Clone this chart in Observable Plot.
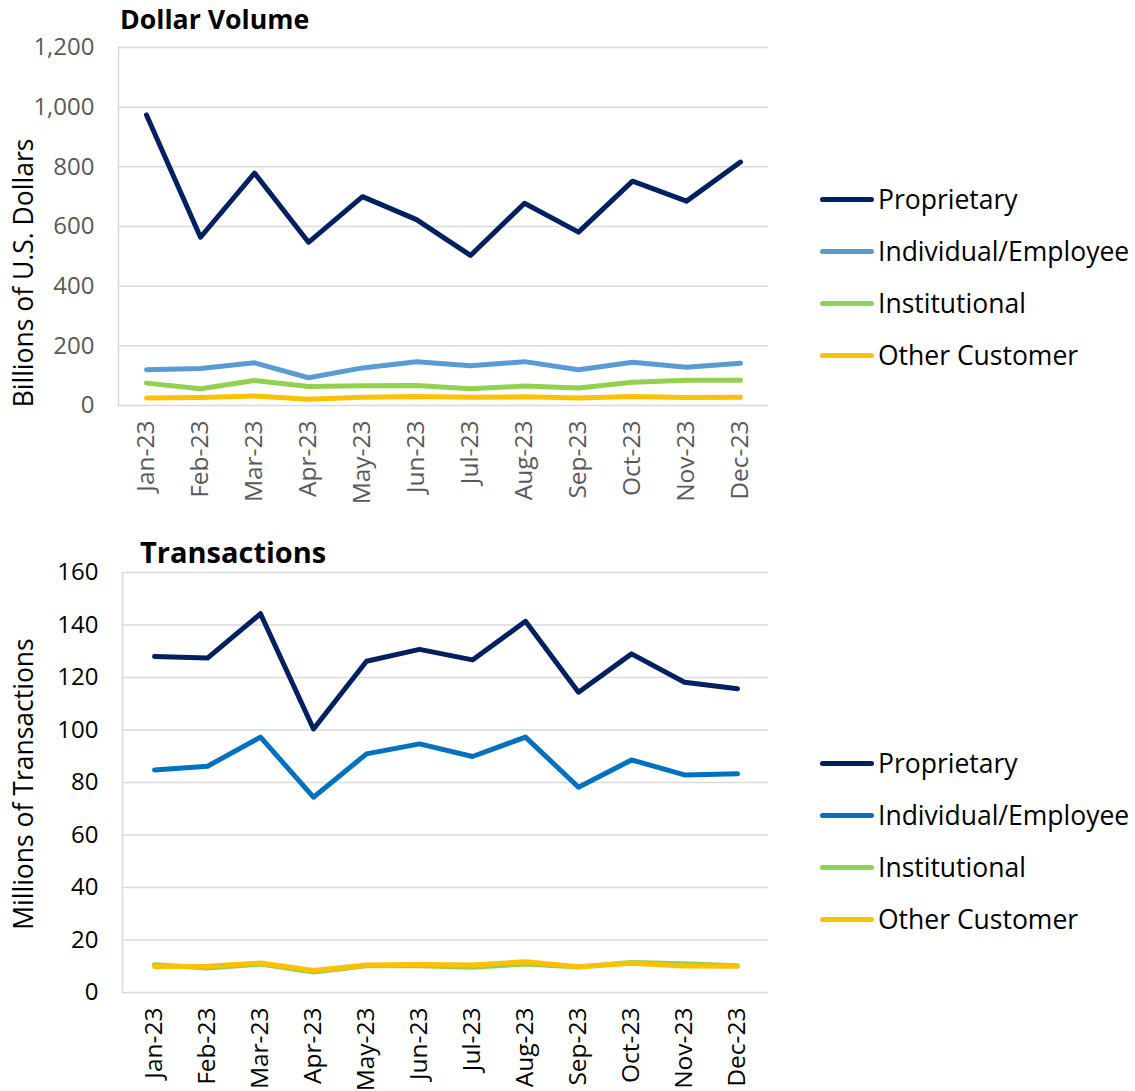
<!DOCTYPE html>
<html>
<head>
<meta charset="utf-8">
<script src="https://cdn.jsdelivr.net/npm/d3@7"></script>
<script src="https://cdn.jsdelivr.net/npm/@observablehq/plot@0.6"></script>
<style>
  html, body { margin: 0; padding: 0; background: #fff; }
  #root { position: relative; width: 1135px; height: 1091px; font-family: "Open Sans", sans-serif; overflow: hidden; }
  .abs { position: absolute; white-space: nowrap; }
  .title { font-weight: 700; color: #000; line-height: 1; }
  .ylab { font-size: 26.5px; color: #000; line-height: 1; transform: translate(-50%, -50%) rotate(-90deg); }
  .leg { font-size: 26.5px; color: #000; line-height: 1; display: flex; align-items: center; }
  .sw { width: 54px; height: 5px; border-radius: 3px; margin-right: 4px; }
</style>
</head>
<body>
<div id="root"></div>
<script>
const months = ["Jan-23","Feb-23","Mar-23","Apr-23","May-23","Jun-23","Jul-23","Aug-23","Sep-23","Oct-23","Nov-23","Dec-23"];
const seriesNames = ["Proprietary","Individual/Employee","Institutional","Other Customer"];

// Dollar Volume (billions of USD)
const dvProprietary = [974,564,779,547,700,623,503,678,581,752,685,816];
const dvIndividual  = [120,124,143,93,126,147,133,147,120,145,128,142];
const dvInstitutional = [75,56,84,64,66,67,56,65,59,78,85,85];
const dvOther = [25,27,32,21,28,30,28,29,25,30,27,28];
const dvTicks = [0,200,400,600,800,1000,1200];

// Transactions (millions)
const txProprietary = [128,127.4,144.3,100.4,126.2,130.7,126.7,141.4,114.4,129,118.2,115.7];
const txIndividual  = [84.8,86.2,97.3,74.4,90.9,94.7,89.9,97.3,78.2,88.6,82.9,83.3];
const txInstitutional = [10.6,9.3,10.8,7.8,10.2,10.2,9.6,10.9,9.7,11.4,11.0,10.2];
const txOther = [9.9,10,11.2,8.4,10.5,10.7,10.5,11.7,9.8,11.1,10.1,10.0];
const txTicks = [0,20,40,60,80,100,120,140,160];

const colorsTop = ["#002060","#5b9bd5","#92d050","#ffc000"];
const colorsBottom = ["#002060","#0070c0","#92d050","#ffc000"];

function toRows(arrs) {
  const rows = [];
  arrs.forEach((arr, si) => arr.forEach((v, i) => rows.push({month: months[i], series: seriesNames[si], value: v})));
  return rows;
}

function makeChart({rows, ticks, colors, width, height, mt, mb, ml, mr, tickColor, fmt}) {
  return Plot.plot({
    width, height,
    marginTop: mt, marginBottom: mb, marginLeft: ml, marginRight: mr,
    style: {fontFamily: "'Open Sans', sans-serif", fontSize: "24px", color: tickColor, background: "transparent", overflow: "visible"},
    x: {type: "point", domain: months, padding: 0.5, label: null},
    y: {domain: [ticks[0], ticks[ticks.length - 1]], label: null},
    color: {domain: seriesNames, range: colors},
    marks: [
      Plot.ruleY(ticks, {stroke: "#d9d9d9", strokeWidth: 1.5}),
      Plot.frame({anchor: "left", stroke: "#d9d9d9", strokeWidth: 1.5}),
      Plot.axisY({ticks, tickSize: 0, tickPadding: 24, tickFormat: fmt, label: null, fontSize: 24}),
      Plot.axisX({tickSize: 0, tickPadding: 15, tickRotate: -90, label: null, fontSize: 24.5}),
      Plot.line(rows, {x: "month", y: "value", z: "series", stroke: "series", strokeWidth: 5, strokeLinejoin: "round", strokeLinecap: "round"})
    ]
  });
}

const root = document.getElementById("root");

// Top chart
const top1 = makeChart({
  rows: toRows([dvProprietary, dvIndividual, dvInstitutional, dvOther]),
  ticks: dvTicks, colors: colorsTop,
  width: 800, height: 510, mt: 47, mb: 105, ml: 118, mr: 32,
  tickColor: "#595959", fmt: d3.format(",")
});
top1.style.position = "absolute"; top1.style.left = "0px"; top1.style.top = "0px";
root.appendChild(top1);

// Bottom chart
const bot = makeChart({
  rows: toRows([txProprietary, txIndividual, txInstitutional, txOther]),
  ticks: txTicks, colors: colorsBottom,
  width: 800, height: 571, mt: 52, mb: 99, ml: 122, mr: 32,
  tickColor: "#000000", fmt: d3.format("d")
});
bot.style.position = "absolute"; bot.style.left = "0px"; bot.style.top = "520px";
root.appendChild(bot);

function addDiv(cls, text, left, top, extra) {
  const d = document.createElement("div");
  d.className = "abs " + cls;
  d.textContent = text;
  d.style.left = left + "px"; d.style.top = top + "px";
  if (extra) Object.assign(d.style, extra);
  root.appendChild(d);
  return d;
}

addDiv("title", "Dollar Volume", 120, 6, {fontSize: "26.7px"});
addDiv("title", "Transactions", 140, 537, {fontSize: "29px"});
addDiv("ylab", "Billions of U.S. Dollars", 23, 273);
addDiv("ylab", "Millions of Transactions", 23, 784);

function addLegend(colors, x, ys) {
  seriesNames.forEach((name, i) => {
    const d = document.createElement("div");
    d.className = "abs leg";
    d.style.left = x + "px";
    d.style.top = (ys[i] - 16) + "px";
    d.style.height = "32px";
    const sw = document.createElement("span");
    sw.className = "sw";
    sw.style.background = colors[i];
    const t = document.createElement("span");
    t.textContent = name;
    d.appendChild(sw); d.appendChild(t);
    root.appendChild(d);
  });
}
addLegend(colorsTop, 820, [199, 251, 303, 355]);
addLegend(colorsBottom, 820, [763, 815, 867, 919]);
</script>
</body>
</html>
